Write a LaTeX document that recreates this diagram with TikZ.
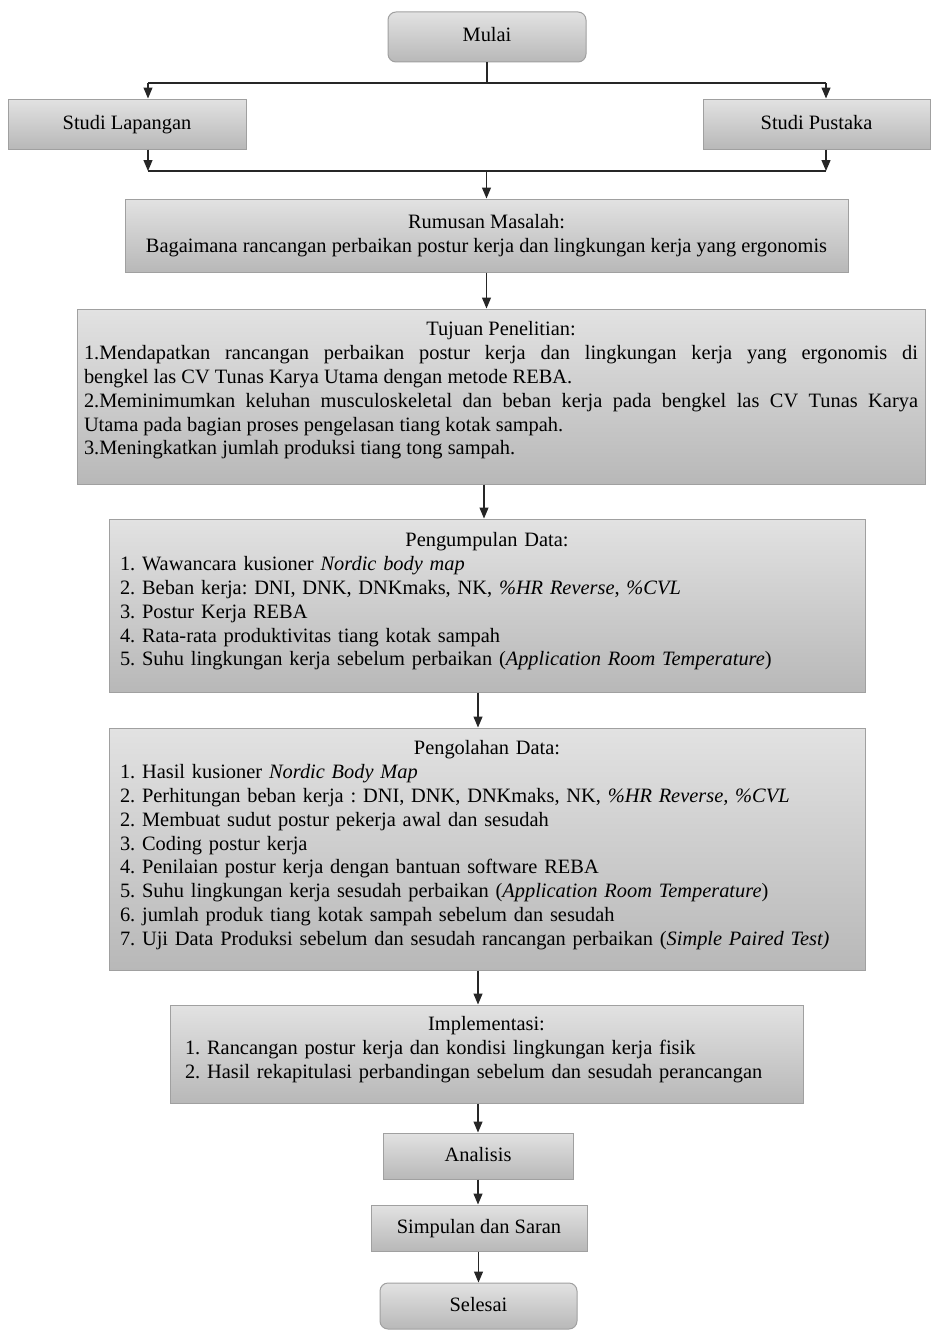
\documentclass[tikz,border=0pt]{standalone}
\usepackage{fontspec}
\setmainfont{Liberation Serif}
\usepackage{tikz}
\usetikzlibrary{arrows.meta,positioning}
\definecolor{boxtop}{RGB}{226,226,226}
\definecolor{boxbottom}{RGB}{184,184,184}
\definecolor{boxline}{RGB}{160,160,160}
\newcommand{\flowfont}{\fontsize{20.4pt}{23.8pt}\selectfont\frenchspacing}
\tikzset{%
    flow_box/.style={%
        rectangle, draw=boxline, line width=1pt, top color=boxtop, bottom color=boxbottom,
        inner sep=0pt, font=\flowfont, align=center
    },
    flow_single/.style={%
        flow_box, text height=14pt, text depth=4pt
    },
    flow_term/.style={%
        flow_single, rounded corners=8pt
    },
    flow_text/.style={%
        inner sep=0pt, font=\flowfont, align=left
    },
    flow_line/.style={%
        draw=black!85, line width=1.2pt
    },
    flow_arrow/.style={%
        flow_line, -{Triangle[length=11pt,width=9pt]}
    },
}
\begin{document}
\begin{tikzpicture}[x=1pt,y=-1pt]
    \useasboundingbox (0,0) rectangle (931,1330);

    % start and the two studies
    \node[flow_term, minimum width=198pt, minimum height=50pt] (mulai) at (487,37) {Mulai};
    \node[flow_single, minimum width=238pt, minimum height=50pt] (lapangan) at (127,124) {Studi Lapangan};
    \node[flow_single, minimum width=227pt, minimum height=50pt] (pustaka) at (816.5,124) {Studi Pustaka};
    \coordinate (split_l) at (148,83);
    \coordinate (split_r) at (826,83);
    \coordinate (merge_l) at (148,171);
    \coordinate (merge_r) at (826,171);

    % problem statement
    \node[flow_box, minimum width=723pt, minimum height=73pt] (rumusan) at (486.5,235.5)
      {Rumusan Masalah:\\Bagaimana rancangan perbaikan postur kerja dan lingkungan kerja yang ergonomis};

    % research goals
    \node[flow_box, minimum width=848pt, minimum height=175pt] (tujuan) at (501,396.5) {};
    \node[flow_text, text width=834pt, align=justify, below=13pt of tujuan.north] (tujuan_txt) {%
      \makebox[\linewidth]{Tujuan Penelitian:}\\
      1.Mendapatkan rancangan perbaikan postur kerja dan lingkungan kerja yang ergonomis di\linebreak
      bengkel las CV Tunas Karya Utama dengan metode REBA.\\
      2.Meminimumkan keluhan musculoskeletal dan beban kerja pada bengkel las CV Tunas Karya\linebreak
      Utama pada bagian proses pengelasan tiang kotak sampah.\\
      3.Meningkatkan jumlah produksi tiang tong sampah.};

    % data collection
    \node[flow_box, minimum width=756pt, minimum height=173pt] (kumpul) at (487,605.5) {};
    \node[flow_text, text width=734pt, below=14pt of kumpul.north] (kumpul_txt) {%
      \makebox[\linewidth]{Pengumpulan Data:}\\
      1. Wawancara kusioner \textit{Nordic body map}\\
      2. Beban kerja: DNI, DNK, DNKmaks, NK, \textit{\%HR Reverse}, \textit{\%CVL}\\
      3. Postur Kerja REBA\\
      4. Rata-rata produktivitas tiang kotak sampah\\
      5. Suhu lingkungan kerja sebelum perbaikan (\textit{Application Room Temperature})};

    % data processing
    \node[flow_box, minimum width=756pt, minimum height=242pt] (olah) at (487,849) {};
    \node[flow_text, text width=734pt, below=13pt of olah.north] (olah_txt) {%
      \makebox[\linewidth]{Pengolahan Data:}\\
      1. Hasil kusioner \textit{Nordic Body Map}\\
      2. Perhitungan beban kerja : DNI, DNK, DNKmaks, NK, \textit{\%HR Reverse, \%CVL}\\
      2. Membuat sudut postur pekerja awal dan sesudah\\
      3. Coding postur kerja\\
      4. Penilaian postur kerja dengan bantuan software REBA\\
      5. Suhu lingkungan kerja sesudah perbaikan (\textit{Application Room Temperature})\\
      6. jumlah produk tiang kotak sampah sebelum dan sesudah\\
      7. Uji Data Produksi sebelum dan sesudah rancangan perbaikan (\textit{Simple Paired Test)}};

    % implementation
    \node[flow_box, minimum width=633pt, minimum height=98pt] (impl) at (486.5,1054) {};
    \node[flow_text, text width=603pt, below=12pt of impl.north] (impl_txt) {%
      \makebox[\linewidth]{Implementasi:}\\
      1. Rancangan postur kerja dan kondisi lingkungan kerja fisik\\
      2. Hasil rekapitulasi perbandingan sebelum dan sesudah perancangan};

    % closing steps
    \node[flow_single, minimum width=190pt, minimum height=46pt] (analisis) at (478,1156) {Analisis};
    \node[flow_single, minimum width=216pt, minimum height=46pt] (simpulan) at (479,1228) {Simpulan dan Saran};
    \node[flow_term, minimum width=197pt, minimum height=46pt] (selesai) at (478.5,1306) {Selesai};

    % connectors
    \draw[flow_line] (mulai.south) -- (mulai.south |- split_l);
    \draw[flow_line] (split_l) -- (split_r);
    \draw[flow_arrow] (split_l) -- (split_l |- lapangan.north);
    \draw[flow_arrow] (split_r) -- (split_r |- pustaka.north);
    \draw[flow_arrow] (lapangan.south -| merge_l) -- (merge_l);
    \draw[flow_arrow] (pustaka.south -| merge_r) -- (merge_r);
    \draw[flow_line] (merge_l) -- (merge_r);
    \draw[flow_arrow] (rumusan.north |- merge_l) -- (rumusan.north);
    \draw[flow_arrow] (rumusan.south) -- (rumusan.south |- tujuan.north);
    \draw[flow_arrow] ([xshift=-3pt]kumpul.north |- tujuan.south) -- ([xshift=-3pt]kumpul.north);
    \draw[flow_arrow] (kumpul.south -| analisis) -- (olah.north -| analisis);
    \draw[flow_arrow] (olah.south -| analisis) -- (impl.north -| analisis);
    \draw[flow_arrow] (impl.south -| analisis) -- (analisis.north);
    \draw[flow_arrow] (analisis.south) -- (analisis.south |- simpulan.north);
    \draw[flow_arrow] (simpulan.south -| selesai) -- (selesai.north);

\end{tikzpicture}
\end{document}
